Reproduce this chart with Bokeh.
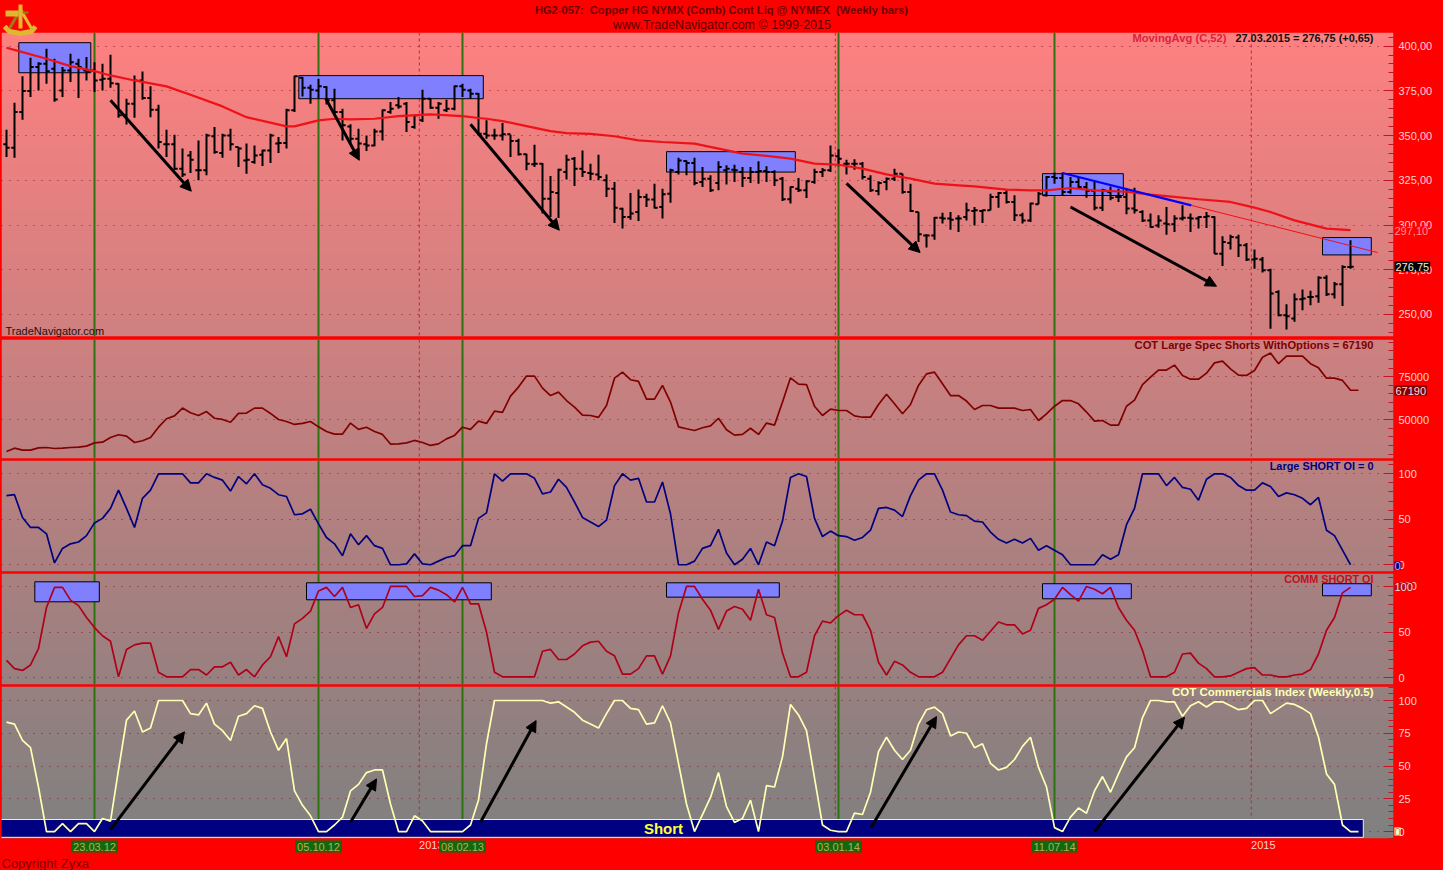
import numpy as np
from bokeh.embed import file_html
from bokeh.resources import INLINE
from bokeh.plotting import figure
from bokeh.layouts import column
from bokeh.models import (Range1d, SingleIntervalTicker, FixedTicker, Span, Label, Arrow, NormalHead,
                          LinearAxis)

# ---- data ----
title_1 = "HG2-057:\u00a0 Copper HG NYMX (Comb) Cont Liq @ NYMEX\u00a0 (Weekly bars)"
title_2 = "www.TradeNavigator.com \u00a9 1999-2015"

price_high = [353.3,368.4,383.1,393.5,391.0,398.5,392.9,388.3,395.7,392.9,393.9,391.0,390.1,395.2,379.3,370.6,383.6,385.8,377.5,367.2,
 353.3,350.5,342.7,341.4,347.3,351.0,354.8,351.0,353.8,343.6,345.5,344.5,342.1,351.0,349.2,365.0,383.4,382.7,378.4,381.8,
 377.5,376.2,365.0,356.3,353.8,350.1,353.8,364.6,368.7,371.5,368.7,361.3,375.6,371.0,368.7,370.0,378.0,379.0,376.2,373.8,
 358.5,353.8,357.0,350.5,348.2,339.9,344.9,334.7,327.4,331.5,339.3,338.0,341.7,334.3,339.3,328.3,324.0,309.7,317.9,319.8,
 317.5,323.1,320.3,331.5,337.6,336.1,337.6,332.4,327.8,335.6,333.4,333.7,332.4,332.4,335.6,332.8,330.6,326.8,321.6,326.3,
 325.0,331.5,331.9,344.5,342.3,336.5,336.7,335.2,327.8,324.4,326.5,331.5,328.7,323.1,307.3,294.8,304.5,306.9,307.3,305.4,
 312.5,310.1,308.6,317.5,318.5,319.4,316.6,306.9,312.5,318.5,327.4,329.3,329.3,326.8,326.8,324.0,324.0,320.3,321.6,320.3,
 320.7,320.9,308.2,306.4,305.4,310.1,305.4,311.0,306.4,304.9,307.3,304.9,293.7,294.6,294.6,290.0,286.3,282.2,275.6,263.5,
 255.7,261.7,263.9,263.2,271.4,271.9,268.2,277.5,291.5]
price_low = [338.0,337.6,358.9,371.5,375.2,379.0,368.9,371.5,379.9,371.0,380.8,374.3,375.2,376.7,360.0,356.2,360.0,370.0,360.3,342.7,
 338.0,330.9,326.8,329.1,325.0,327.8,339.9,337.6,341.7,332.4,328.7,334.3,333.0,334.7,340.2,342.7,363.1,371.9,367.8,370.6,
 367.4,361.3,347.3,345.5,338.0,341.4,344.0,347.3,362.2,365.0,352.0,353.8,357.6,365.0,359.4,363.1,364.1,371.5,370.6,350.1,
 348.2,347.7,347.3,338.0,338.9,330.6,332.4,306.4,304.5,303.9,325.5,321.8,326.8,325.0,325.0,315.7,301.2,298.0,303.0,302.3,
 310.1,309.2,303.6,312.5,328.3,327.8,322.2,321.3,318.5,319.4,322.7,324.0,321.3,323.5,323.1,324.0,321.8,313.4,312.0,318.5,
 315.1,323.1,326.8,329.6,332.8,328.3,330.9,325.5,318.5,316.6,319.4,324.6,317.5,307.3,290.5,287.4,291.8,300.8,297.4,296.1,
 302.6,299.8,301.2,308.2,309.7,312.0,302.3,300.8,301.7,311.6,316.0,323.1,316.6,317.5,320.3,315.3,308.2,307.9,313.8,312.9,
 306.0,306.4,301.7,298.5,298.5,294.6,296.1,302.6,296.1,298.0,298.4,284.0,277.1,286.3,282.2,279.9,275.6,273.4,242.1,249.0,
 241.6,245.9,252.4,255.2,256.5,260.4,258.9,254.8,275.6]
price_open = [345.1,343.2,363.1,374.9,388.3,390.1,387.3,375.2,386.4,390.1,386.4,386.4,381.2,381.8,379.0,361.3,367.8,380.8,371.0,364.4,
 345.1,345.1,331.5,338.9,330.6,330.6,349.6,340.2,350.1,343.6,336.1,335.2,339.3,341.7,345.5,345.8,364.1,382.3,376.7,375.2,
 377.1,369.7,363.1,355.1,348.2,345.1,344.5,352.3,363.1,366.9,367.8,354.8,358.5,370.6,365.6,364.1,365.0,377.5,375.2,373.4,
 351.0,350.1,350.1,350.7,346.9,339.5,333.9,334.3,314.7,317.9,329.6,337.1,331.5,329.1,328.3,325.0,320.3,309.1,304.5,307.3,
 315.7,314.2,310.1,317.5,329.6,335.8,334.7,324.0,325.9,323.5,330.6,330.9,329.6,326.3,329.6,330.2,329.6,325.9,314.4,320.3,
 319.4,324.0,329.6,330.6,338.4,334.3,334.3,334.3,325.9,319.0,324.0,325.9,328.7,318.5,307.3,294.2,294.2,304.1,303.6,303.6,
 304.5,307.9,307.9,308.2,315.7,317.9,312.9,305.4,302.6,311.6,316.6,326.8,326.3,318.5,324.0,321.3,319.0,309.7,318.5,315.7,
 315.7,309.2,307.3,302.6,299.8,300.8,300.4,303.6,304.1,303.6,304.5,304.5,284.0,290.0,293.0,288.7,280.7,280.7,274.7,262.6,
 249.6,247.7,258.5,259.8,260.2,270.6,261.3,266.9,276.6]
price_close = [343.2,363.1,374.9,388.3,390.1,386.0,370.2,386.4,391.0,388.3,385.5,380.8,381.8,379.3,361.3,367.8,380.8,371.0,364.4,346.4,
 345.1,331.5,328.3,336.5,330.6,350.1,340.8,350.1,345.1,342.7,336.5,338.9,341.7,350.1,345.8,364.1,383.1,376.7,375.6,377.5,
 369.7,363.1,355.7,348.2,345.5,344.5,352.3,364.1,365.0,366.3,357.6,361.3,370.6,365.6,367.8,365.0,377.5,375.6,373.4,351.0,
 350.1,350.1,350.7,346.9,339.5,334.3,334.3,314.7,318.5,330.9,336.5,331.5,329.6,328.7,326.8,320.3,309.7,304.5,306.4,315.7,
 314.2,309.7,317.2,330.6,336.1,334.7,323.5,325.9,319.4,332.4,331.5,330.6,326.3,329.6,330.2,329.6,325.0,314.4,321.3,319.4,
 324.4,329.6,330.6,338.9,337.1,334.3,334.3,326.8,319.4,323.5,325.9,328.7,318.5,307.9,294.8,294.2,304.1,303.6,303.0,303.6,
 308.2,308.2,308.2,315.7,317.9,312.9,305.4,302.6,312.0,317.5,326.8,326.3,318.5,324.0,321.3,319.0,309.7,319.4,315.3,315.7,
 309.2,308.2,302.6,298.9,302.6,300.4,303.6,304.1,303.6,304.5,304.9,284.0,290.5,293.3,288.7,280.7,281.2,274.7,261.7,249.6,
 249.0,258.5,258.9,259.8,270.6,261.3,266.9,276.6,276.75]

ma_index = [0,2,5,8,11,13,16,20,23,27,30,35,36,39,41,43,46,49,53,57,59,60,62,65,68,70,73,76,79,82,86,89,92,95,98,101,104,107,110,113,116,119,
            121,125,128,130,133,136,140,143,146,149,153,156,158,161,165,168]
ma_value = [399.1,396.6,392.9,388.8,386.0,383.6,380.8,377.5,372.8,366.3,360.3,355.1,355.1,358.5,359.4,359.0,359.4,360.9,361.8,360.9,359.8,
            359.4,358.1,355.3,352.5,351.4,350.9,349.6,347.3,346.4,345.5,342.7,339.9,338.6,337.1,334.3,333.7,331.5,328.3,325.9,323.1,322.2,
            321.6,319.8,319.4,319.4,320.7,319.4,318.6,317.0,315.7,314.4,312.9,309.7,307.3,302.6,298.0,297.1]

spec_shorts = [31600,33500,32400,32400,33700,33900,33300,33500,33900,34100,34700,36600,37000,39700,41300,40500,36800,37800,39700,45700,
 50600,52300,56800,54100,52500,54800,50900,50200,48600,53700,53900,56800,56800,53700,50200,49000,47300,47900,49000,45900,
 43200,41700,41700,48100,44400,45700,43200,41500,35900,36000,36600,38000,36800,35100,36000,38900,40900,45700,44400,49200,
 47900,55000,54300,63800,69000,75400,75400,68400,64100,66100,61200,57400,52700,52500,51400,58300,74200,77700,73300,72300,
 62000,62000,70000,60300,45900,44800,43800,45400,46500,50900,44200,41100,41500,45100,41500,48100,46900,60300,74400,70700,
 70500,57900,52500,56200,55400,55400,52300,51500,51500,58900,64900,59300,53500,58900,70000,76700,77700,70900,64100,64100,
 60900,56000,58300,58300,56800,56800,56800,55400,56000,49600,53500,57900,61200,61200,59300,54500,49200,49600,46900,46900,
 57900,61400,70400,74800,78900,78900,81800,75800,73600,73600,77100,83100,84100,79600,76000,75800,78700,86400,88800,82600,
 87000,87000,87000,82600,80200,74200,74200,72900,67190,67190]

large_oi = [76,77,52,41,41,34,2,18,23,25,32,46,51,62,82,62,41,73,82,100,100,100,100,90,90,100,96,93,81,97,89,100,88,84,77,75,55,56,61,45,
 30,23,10,34,22,32,21,18,0,0,1,12,1,0,4,8,10,21,21,51,
 57,100,92,100,100,100,95,78,80,94,85,69,52,47,42,49,87,100,93,95,69,69,91,56,0,0,4,18,21,39,13,0,6,18,0,25,21,48,96,100,
 97,51,31,37,32,31,27,30,38,62,63,60,53,76,93,100,100,82,58,55,
 54,48,47,36,28,24,28,24,29,16,21,16,11,0,0,0,0,11,6,11,44,62,100,100,100,87,96,85,83,71,94,100,100,96,87,82,82,90,86,75,
 79,77,73,66,74,38,32,16,0]

comm_oi = [19,10,8,14,32,77,99,99,85,79,66,55,46,40,1,31,36,38,38,6,1,1,1,9,9,3,12,12,17,3,9,1,14,23,45,23,59,65,73,95,
 99,89,99,77,80,54,70,77,100,100,100,89,90,99,96,91,83,99,81,81,
 50,6,1,1,1,1,1,29,31,20,20,26,35,39,40,29,24,4,4,10,24,24,4,24,71,100,100,86,74,53,73,78,75,63,97,69,66,27,1,1,
 6,46,62,60,68,74,69,69,52,17,3,18,14,6,1,1,1,6,21,36,
 46,46,41,51,61,58,58,48,52,76,80,86,99,91,84,100,97,92,99,77,63,52,30,1,1,1,6,26,27,16,10,1,1,2,6,10,11,3,3,1,
 1,3,4,9,26,52,66,93,99]

comm_index = [83.5,82,69.5,64,34,0,0,6,0,6,6,0,10,8,47,85,92,76,79,100,100,100,100,90,89,98,82,77,69.5,88,90,96,94,76,62,71,31,20,12,0,
 0,5,11,31,36,45,47,47,21,0,0,12,8,0,0,0,0,0,5,24,
 67,100,100,100,100,100,100,100,98,99,95,91,85,82,79,90,100,100,94,93,82,83,96,83,52,21,0,13,26,45,19,7,10,24,0,35,34,57,97,89,
 77,41,5,1,0,0,14,13,30,61,72,62,55,62,82,93,95,90,73,76,
 75,64,67,52,47,49,55,65,72,49,34,3,0,11,18,14,31,42,30,44,57,64,87,100,100,99,99,88,96,99,95,99,99,96,93,94,100,100,90,94,
 98,97,94,90,72,44,36,5,0,0]

signal_bars = [11, 39, 57, 104, 131]
signal_dates = ["23.03.12", "05.10.12", "08.02.13", "03.01.14", "11.07.14"]
year_lines = [51.6, 103.6, 155.6]
year_ticks = {53.1: "2013", 157.1: "2015"}

price_boxes = [(1.54,10.54,401.9,385.1),(36.54,59.6,383.5,370.6),(82.5,98.6,341.0,329.6),(129.5,139.6,328.7,316.5),(164.5,170.6,293.0,283.3)]
comm_boxes = [(3.54,11.6,105.1,83.2),(37.5,60.6,104,85.4),(82.5,96.6,104,88.3),(129.5,140.6,103,86.5),(164.5,170.6,103,89.8)]
price_arrows = [(13,369.7,23.1,318.9),(39.9,370.8,44.1,336.2),(58,356.3,69.1,297.1),(105,323.3,114.2,284.6),(133,310.1,151.25,265.8)]
index_arrows = [(13,1.5,22.25,76.1),(43,7.1,46.25,40.2),(59.25,7.1,66.2,84.7),(108.1,3.3,116.25,87.8),(136,0,147.25,87.3)]

# ---- layout in page pixels ----
W, H = 1443, 870
FONT = "Liberation Sans"
FRAME_L, FRAME_R = 1, 1393
GRAD_TOP, GRAD_BOTTOM = 32, 838
X_RANGE = (-0.625, 173.375)
TICK_COL = "#c81422"
LBL_COL = "#ffd0d0"
RED = "#ff0000"
MA_RED = "#ee1118"


def gradient(top, bottom):
    n = bottom - top
    t = (np.arange(top, bottom) + 0.5 - GRAD_TOP) / (GRAD_BOTTOM - GRAD_TOP)
    r = (255 - 127 * t).astype(np.uint32)
    g = np.full(n, 128, dtype=np.uint32)
    b = np.full(n, 128, dtype=np.uint32)
    img = (255 << 24) | (b << 16) | (g << 8) | r
    return img[::-1].reshape(n, 1)


def panel(top, bottom, y0, y1, interval, border_bottom, border_top=0, overrides=None):
    p = figure(width=W, height=border_top + (bottom - top) + border_bottom,
               x_range=Range1d(*X_RANGE), y_range=Range1d(y0, y1),
               x_axis_location=None, y_axis_location="right",
               output_backend="svg", toolbar_location=None, tools="",
               min_border_left=FRAME_L, min_border_right=W - FRAME_R,
               min_border_top=border_top, min_border_bottom=border_bottom,
               border_fill_color=RED, background_fill_color=RED, outline_line_color=None)
    p.styles = {"background": RED}
    p.image_rgba(image=[gradient(top, bottom)], x=X_RANGE[0], y=y0,
                 dw=X_RANGE[1] - X_RANGE[0], dh=y1 - y0, level="image")
    ticker = SingleIntervalTicker(interval=interval, num_minor_ticks=5)
    ax = p.yaxis[0]
    ax.ticker = ticker
    ax.axis_line_color = None
    ax.major_tick_line_color = TICK_COL
    ax.minor_tick_line_color = TICK_COL
    ax.major_tick_in, ax.major_tick_out = 10, 0
    ax.minor_tick_in, ax.minor_tick_out = 5, 0
    ax.major_label_text_color = LBL_COL
    ax.major_label_text_font = FONT
    ax.major_label_text_font_size = "11px"
    ax.major_label_standoff = 5
    if overrides:
        ax.major_label_overrides = overrides
    p.xgrid.grid_line_color = None
    p.ygrid.ticker = ticker
    p.ygrid.grid_line_color = "#8c1c2c"
    p.ygrid.grid_line_dash = "1 7"
    p.ygrid.grid_line_width = 1
    for loc in year_lines:
        p.add_layout(Span(location=loc, dimension="height", line_color="#c81e32",
                          line_dash="3 3", line_width=1, level="underlay"))
    for loc in signal_bars:
        p.add_layout(Span(location=loc, dimension="height", line_color="#2e7210",
                          line_width=2, level="underlay"))
    return p


def boxes(p, rects):
    left, right, tops, bots = zip(*rects)
    p.quad(left=list(left), right=list(right), top=list(tops), bottom=list(bots),
           fill_color="#8080ff", line_color="#000000", line_width=1)


def arrows(p, items, size=11):
    for x0, y0, x1, y1 in items:
        p.add_layout(Arrow(end=NormalHead(size=size, fill_color="#000000", line_color="#000000"),
                           x_start=x0, y_start=y0, x_end=x1, y_end=y1,
                           line_color="#000000", line_width=3))


price_labels = {v: f"{v},00" for v in (250, 275, 300, 325, 350, 375, 400)}
p1 = panel(32, 336, 237.7, 407.6, 25, 3, 32, price_labels)
p2 = panel(339, 458, 27500, 96686, 25000, 2)
p3 = panel(460, 571, -7.4, 114.6, 50, 2)
p4 = panel(573, 684, -7.4, 114.2, 50, 2)
p5 = panel(686, 838, -5.3, 110.7, 25, 32)

bars = list(range(len(price_high)))
boxes(p1, price_boxes)
p1.segment(bars, price_low, bars, price_high, line_color="#000000", line_width=2)
p1.segment([b - 0.4 for b in bars], price_open, bars, price_open, line_color="#000000", line_width=2)
p1.segment(bars, price_close, [b + 0.4 for b in bars], price_close, line_color="#000000", line_width=2)
p1.line(ma_index, ma_value, line_color=MA_RED, line_width=2.2)
p1.line([148.1, 171.4], [311.0, 284.6], line_color=MA_RED, line_width=1)
p1.line([132, 148.1], [329.1, 311.0], line_color="#0000ff", line_width=2.2)
arrows(p1, price_arrows)

p2.line(list(range(len(spec_shorts))), spec_shorts, line_color="#800000", line_width=1.7)
p3.line(list(range(len(large_oi))), large_oi, line_color="#000080", line_width=1.7)
boxes(p4, comm_boxes)
p4.line(list(range(len(comm_oi))), comm_oi, line_color="#b00018", line_width=1.7)

p5.quad(left=[-1], right=[169.6], top=[9.2], bottom=[-4.4], fill_color="#000080",
        line_color="#ffff60", line_width=1)
p5.line(list(range(len(comm_index))), comm_index, line_color="#ffffb4", line_width=1.7)
arrows(p5, index_arrows)

xa = LinearAxis(ticker=FixedTicker(ticks=list(year_ticks)), major_label_overrides=year_ticks,
                axis_line_color=None, major_tick_line_color=None, minor_tick_line_color=None,
                major_tick_in=0, major_tick_out=0,
                major_label_text_color=LBL_COL, major_label_text_font=FONT,
                major_label_text_font_size="11px", major_label_standoff=2)
p5.add_layout(xa, "below")

# transparent sheet over the whole page, in page pixels, for the captions and value tags
sheet = figure(width=W, height=H, x_range=Range1d(0, W), y_range=Range1d(H, 0),
               x_axis_location=None, y_axis_location=None, output_backend="svg",
               toolbar_location=None, tools="", min_border=0, outline_line_color=None,
               background_fill_alpha=0, border_fill_alpha=0)
sheet.xgrid.grid_line_color = None
sheet.ygrid.grid_line_color = None
sheet.styles = {"position": "absolute", "left": "0px", "top": "0px", "pointer-events": "none"}


def text(px, py, s, color, size="11px", bold=False, align="right", bg=None, pad=0):
    sheet.add_layout(Label(x=px, y=py, text=s, text_color=color, text_font=FONT, text_font_size=size,
                           text_font_style="bold" if bold else "normal",
                           text_align=align, text_baseline="middle",
                           background_fill_color=bg, padding=pad))


text(721, 9, title_1, "#6e0000", "11.1px", True, "center")
text(721.5, 24, title_2, "#5a0000", "12.5px", False, "center")
text(1226, 37, "MovingAvg (C,52)", "#e0203a", "11.2px", True)
text(1373, 37, "27.03.2015 = 276,75 (+0,65)", "#101010", "10.9px", True)
text(5, 330, "TradeNavigator.com", "#201010", "11px", False, "left")
text(1394, 230, "297,10", "#ff9090", "11px", False, "left", RED)
text(1394, 266, "276,75", "#ffe8d0", "11px", False, "left", "#000000", 1)

text(1373, 344, "COT Large Spec Shorts WithOptions = 67190", "#800000", "11.2px", True)
text(1394, 390, "67190", "#ffd8d8", "11px", False, "left", "#800000", 1)

text(1373, 465, "Large SHORT OI = 0", "#000080", "10.9px", True)
text(1394, 565, "0", "#b0b0ff", "11px", False, "left", "#000080", 0)

text(1373, 578, "COMM SHORT OI", "#c01020", "10.8px", True)
text(1394, 586, "100", "#ffd8d8", "11px", False, "left", "#a81020", 0)

text(1373, 691, "COT Commercials Index (Weekly,0.5)", "#ffffb4", "11.5px", True)
text(1394, 831, "0", "#c09050", "11px", False, "left", "#ffffc8", 0)
text(663, 828, "Short", "#ffff40", "15px", True, "center")
text(1, 863, "Copyright Zyxa", "#800000", "13px", False, "left")

for b, d in zip(signal_bars, signal_dates):
    text(6 + 8 * b, 846, d, "#c0a850", "11px", False, "center", "#0e6a0e", 2)

# sextant emblem in the title band
gold, dark = "#e0b830", "#a07818"
sheet.line([4, 9, 20, 31, 35], [26, 31, 33, 31, 26], line_color=gold, line_width=5)
sheet.line([20, 9], [9, 28], line_color=dark, line_width=3)
sheet.line([20, 31], [9, 28], line_color=gold, line_width=3)
sheet.line([20, 20], [4, 28], line_color=gold, line_width=4)
sheet.line([5, 18], [13, 13], line_color=gold, line_width=6)
sheet.line([22, 28], [12, 12], line_color=dark, line_width=2)

page = column(p1, p2, p3, p4, p5, spacing=0)
page.styles = {"position": "absolute", "left": "0px", "top": "0px", "background": RED}
open("out.html", "w").write(file_html([page, sheet], INLINE))
